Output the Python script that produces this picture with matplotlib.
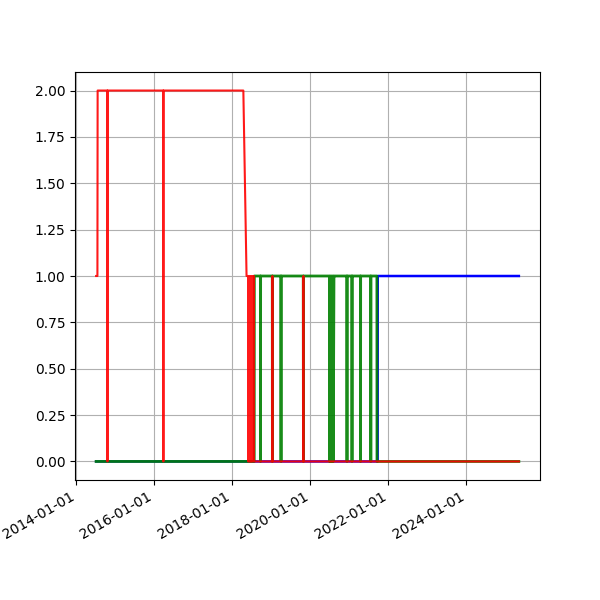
import numpy as np
import pandas as pd
import matplotlib
matplotlib.use('Agg')
from matplotlib import pyplot as plt
import matplotlib.dates as mdates

# state values (date, value breakpoints)
red_dates = ['2014-07-04', '2014-07-16', '2014-07-18', '2014-10-17', '2014-10-18', '2014-10-19',
             '2016-03-24', '2016-03-25', '2016-03-26', '2018-04-13', '2018-05-13',
             '2018-05-28', '2018-05-29', '2018-06-05', '2018-06-06', '2018-06-13', '2018-06-14',
             '2018-06-21', '2018-06-22', '2018-06-29', '2018-06-30', '2018-07-07', '2018-07-08',
             '2018-07-15', '2018-07-20', '2018-07-21',
             '2019-01-09', '2019-01-10', '2019-01-11',
             '2019-10-26', '2019-10-27', '2019-10-28', '2025-05-07']
red_vals = [1, 1, 2, 2, 0, 2,
            2, 0, 2, 2, 1,
            1, 0, 1, 0, 1, 0,
            1, 0, 1, 0, 1, 0,
            1, 1, 0,
            0, 1, 0,
            0, 1, 0, 0]

green_dates = ['2014-07-04', '2018-07-24', '2018-07-25',
               '2018-09-20', '2018-09-21', '2018-09-22',
               '2019-01-09', '2019-01-10', '2019-01-11',
               '2019-03-31', '2019-04-01', '2019-04-02',
               '2019-10-26', '2019-10-28', '2019-10-29',
               '2020-06-27', '2020-06-28', '2020-07-05', '2020-07-06', '2020-07-14', '2020-07-15',
               '2020-07-23', '2020-07-24', '2020-08-01', '2020-08-02', '2020-08-09', '2020-08-10',
               '2020-12-08', '2020-12-09', '2020-12-10',
               '2021-01-24', '2021-01-25', '2021-01-26',
               '2021-04-14', '2021-04-15', '2021-04-16',
               '2021-07-19', '2021-07-20', '2021-07-21',
               '2021-09-15', '2021-09-16', '2025-05-07']
green_vals = [0, 0, 1,
              1, 0, 1,
              1, 0, 1,
              1, 0, 1,
              1, 0, 1,
              1, 0, 1, 0, 1, 0,
              1, 0, 1, 0, 1, 1,
              1, 0, 1,
              1, 0, 1,
              1, 0, 1,
              1, 0, 1,
              1, 0, 0]

blue_dates = ['2014-07-04', '2021-09-22', '2021-09-23', '2025-05-07']
blue_vals = [0, 0, 1, 1]

fig, ax = plt.subplots(figsize=(6, 6), dpi=100)
ax.plot(pd.to_datetime(blue_dates), blue_vals, color='blue', lw=1.8)
ax.plot(pd.to_datetime(green_dates), green_vals, color='green', lw=2, alpha=0.9)
ax.plot(pd.to_datetime(red_dates), red_vals, color='red', lw=1.5, alpha=0.9)
ax.grid()
ax.xaxis.set_major_locator(mdates.YearLocator(2))
ax.xaxis.set_major_formatter(mdates.DateFormatter('%Y-%m-%d'))
fig.autofmt_xdate()
fig.savefig('out.png')
